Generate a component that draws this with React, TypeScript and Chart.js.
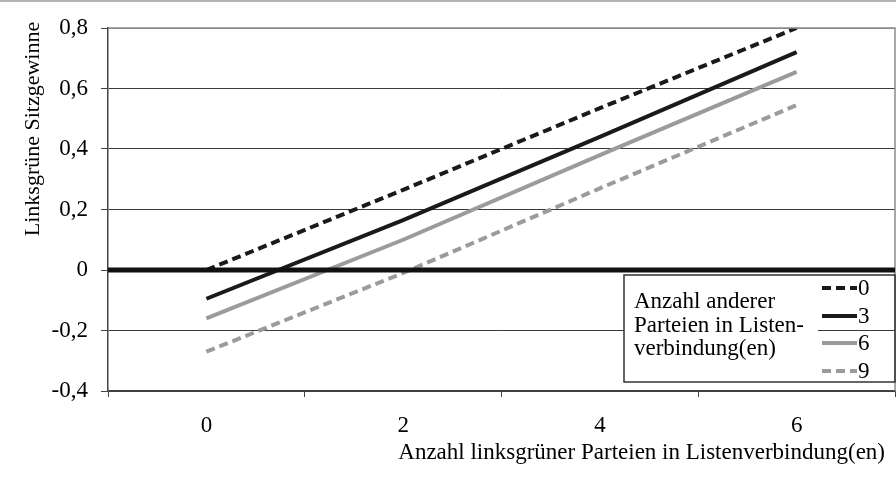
import React, { useEffect, useRef } from "react";
import { Chart, registerables } from "chart.js";

Chart.register(...registerables);

const categories = ["0", "2", "4", "6"];
const series0 = [0.0, 0.265, 0.535, 0.8];
const series3 = [-0.095, 0.165, 0.44, 0.72];
const series6 = [-0.16, 0.1, 0.38, 0.655];
const series9 = [-0.27, -0.01, 0.27, 0.545];
const seriesLabels = ["0", "3", "6", "9"];
const legendTitle = ["Anzahl anderer", "Parteien in Listen-", "verbindung(en)"];
const xTitle = "Anzahl linksgrüner Parteien in Listenverbindung(en)";
const yTitle = "Linksgrüne Sitzgewinne";

const FONT = "Liberation Serif";

const customPlugin = {
  id: "customDraw",
  afterDatasetsDraw(chart: any) {
    const { ctx, chartArea: a, scales } = chart;
    const y = scales.y;
    ctx.save();
    // top and right plot border
    ctx.strokeStyle = "#8a8a8a";
    ctx.lineWidth = 1.5;
    ctx.beginPath();
    ctx.moveTo(a.left, a.top);
    ctx.lineTo(a.right, a.top);
    ctx.lineTo(a.right, a.bottom);
    ctx.stroke();
    // zero line
    const y0 = y.getPixelForValue(0);
    ctx.strokeStyle = "#111";
    ctx.lineWidth = 5;
    ctx.beginPath();
    ctx.moveTo(a.left, y0);
    ctx.lineTo(a.right, y0);
    ctx.stroke();
    ctx.restore();
  },
  afterDraw(chart: any) {
    const { ctx } = chart;
    ctx.save();
    // outer frame top line
    ctx.strokeStyle = "#9a9a9a";
    ctx.lineWidth = 1.5;
    ctx.beginPath();
    ctx.moveTo(0, 1);
    ctx.lineTo(896, 1);
    ctx.stroke();

    // legend
    const bx = 624, by = 275, bw = 271, bh = 107;
    ctx.fillStyle = "#fff";
    ctx.fillRect(bx, by, 194, bh);
    ctx.strokeStyle = "#333";
    ctx.lineWidth = 1.5;
    ctx.strokeRect(bx, by, bw, bh);

    ctx.fillStyle = "#000";
    ctx.font = `23px "${FONT}"`;
    ctx.textAlign = "left";
    ctx.textBaseline = "middle";
    const titleYs = [302, 326, 349];
    legendTitle.forEach((t, i) => ctx.fillText(t, 634, titleYs[i]));

    const entryY = [288, 316, 343, 371];
    chart.data.datasets.forEach((ds: any, i: number) => {
      const yy = entryY[i];
      ctx.strokeStyle = ds.borderColor;
      ctx.lineWidth = ds.borderWidth;
      ctx.setLineDash(ds.borderDash || []);
      ctx.beginPath();
      ctx.moveTo(822, yy);
      ctx.lineTo(857, yy);
      ctx.stroke();
      ctx.setLineDash([]);
      ctx.fillStyle = "#000";
      ctx.fillText(seriesLabels[i], 858, yy + 1);
    });

    // axis titles
    ctx.fillStyle = "#000";
    ctx.font = `23px "${FONT}"`;
    ctx.textAlign = "right";
    ctx.textBaseline = "middle";
    ctx.fillText(xTitle, 885, 453);

    ctx.translate(33, 129);
    ctx.rotate(-Math.PI / 2);
    ctx.textAlign = "center";
    ctx.font = `22px "${FONT}"`;
    ctx.fillText(yTitle, 0, 0);
    ctx.restore();
  },
};

export default function App() {
  const ref = useRef<HTMLCanvasElement | null>(null);

  useEffect(() => {
    document.body.style.margin = "0";
    const canvas = ref.current;
    if (!canvas) return;
    const black = "#1a1a1a";
    const gray = "#9b9b9b";
    const chart = new Chart(canvas, {
      type: "line",
      data: {
        labels: categories,
        datasets: [
          { label: seriesLabels[0], data: series0, borderColor: black, borderWidth: 4, borderDash: [9, 5] },
          { label: seriesLabels[1], data: series3, borderColor: black, borderWidth: 4 },
          { label: seriesLabels[2], data: series6, borderColor: gray, borderWidth: 4 },
          { label: seriesLabels[3], data: series9, borderColor: gray, borderWidth: 4, borderDash: [9, 5] },
        ] as any,
      },
      options: {
        animation: false,
        responsive: false,
        events: [],
        elements: { point: { radius: 0 }, line: { tension: 0 } },
        layout: { padding: { top: 28, right: 1, left: 0, bottom: 0 } },
        plugins: { legend: { display: false }, tooltip: { enabled: false } },
        scales: {
          x: {
            type: "category",
            offset: true,
            grid: {
              display: true,
              drawOnChartArea: false,
              offset: true,
              tickLength: 6,
              color: "#444",
              lineWidth: 1,
            },
            border: { display: true, color: "#444", width: 1.5 },
            ticks: {
              color: "#000",
              font: { family: FONT, size: 23 },
              padding: 15,
              maxRotation: 0,
            },
            afterFit: (axis: any) => {
              axis.height = 94;
            },
          },
          y: {
            min: -0.4,
            max: 0.8,
            ticks: {
              stepSize: 0.2,
              color: "#000",
              font: { family: FONT, size: 23 },
              padding: 13,
              callback: (v: any) => {
                const n = Number(v);
                if (Math.abs(n) < 1e-9) return "0";
                return n.toFixed(1).replace(".", ",");
              },
            },
            grid: {
              tickLength: 7,
              tickWidth: 1,
              tickColor: "#444",
              color: (c: any) => {
                const v = c.tick ? c.tick.value : 0;
                if (Math.abs(v - 0.8) < 1e-9) return "#8a8a8a";
                if (Math.abs(v) < 1e-9) return "rgba(0,0,0,0)";
                return "#3a3a3a";
              },
              lineWidth: 1,
            },
            border: { display: true, color: "#444", width: 1.5 },
            afterFit: (axis: any) => {
              axis.width = 108;
            },
          },
        },
      } as any,
      plugins: [customPlugin],
    });
    return () => chart.destroy();
  }, []);

  return (
    <div style={{ width: 896, height: 485, background: "#fff" }}>
      <canvas ref={ref} width={896} height={485} />
    </div>
  );
}
